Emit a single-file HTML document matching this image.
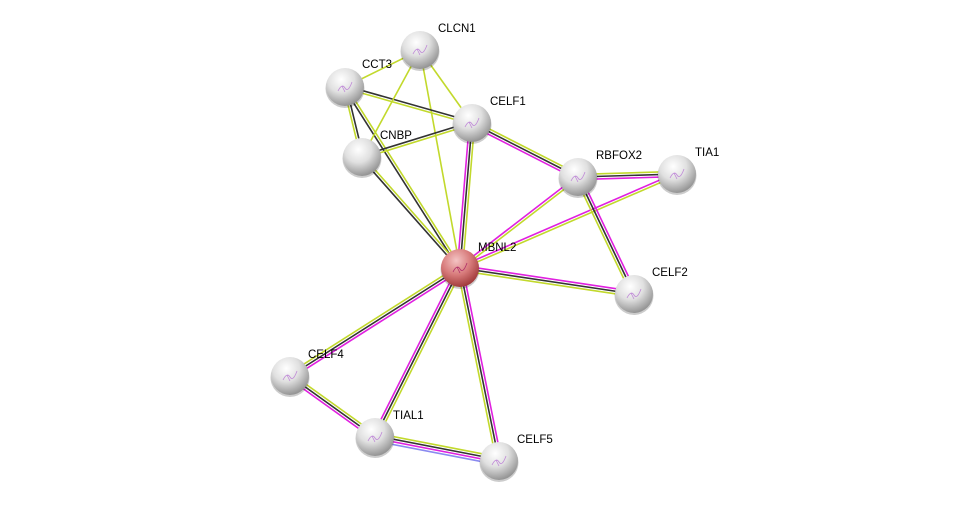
<!DOCTYPE html>
<html><head><meta charset="utf-8"><style>
html,body{margin:0;padding:0;background:#fff;width:975px;height:506px;overflow:hidden}
text{font-family:"Liberation Sans",sans-serif;font-size:11.5px;fill:#000}
</style></head><body>
<svg id="s" width="975" height="506" xmlns="http://www.w3.org/2000/svg">
<defs>
<radialGradient id="gw" cx="40%" cy="30%" r="70%">
<stop offset="0" stop-color="#ffffff"/><stop offset="0.5" stop-color="#e0e0e0"/><stop offset="1" stop-color="#959595"/></radialGradient>
<radialGradient id="gr" cx="40%" cy="30%" r="70%">
<stop offset="0" stop-color="#f4c4c4"/><stop offset="0.55" stop-color="#d77a7a"/><stop offset="1" stop-color="#a23c3c"/></radialGradient>
</defs>
<g id="edges"></g><g id="nodes"></g>
</svg>
<script>
var N={MBNL2:[460,268],CLCN1:[420,50],CCT3:[345,87],CELF1:[472,123],CNBP:[362,157],RBFOX2:[578,177],TIA1:[677,174],CELF2:[634,294],CELF4:[290,376],TIAL1:[375,437],CELF5:[499,461]};
var Y="#c2d92c",K="#333",M="#e020e0",B="#8a8af0";
var E=[["MBNL2","CELF4",[M,K,Y]],["MBNL2","TIAL1",[Y,K,M]],["MBNL2","CELF5",[M,K,Y]],["CELF4","TIAL1",[Y,K,M]],["TIAL1","CELF5",[Y,K,M,B]],["MBNL2","CELF2",[M,K,Y]],["MBNL2","TIA1",[M,Y]],["MBNL2","RBFOX2",[M,Y]],["MBNL2","CELF1",[M,K,Y]],["MBNL2","CLCN1",[Y]],["MBNL2","CCT3",[K,Y]],["MBNL2","CNBP",[K,Y]],["CELF1","RBFOX2",[Y,K,M]],["RBFOX2","TIA1",[Y,K,M]],["RBFOX2","CELF2",[M,K,Y]],["CCT3","CLCN1",[Y]],["CCT3","CELF1",[K,Y]],["CCT3","CNBP",[K,Y]],["CLCN1","CNBP",[Y]],["CLCN1","CELF1",[Y]],["CNBP","CELF1",[K,Y]]];
var ns="http://www.w3.org/2000/svg",eg=document.getElementById("edges"),ng=document.getElementById("nodes");
E.forEach(function(e){var a=N[e[0]],b=N[e[1]],dx=b[0]-a[0],dy=b[1]-a[1],L=Math.hypot(dx,dy),px=-dy/L,py=dx/L,n=e[2].length;
e[2].forEach(function(c,i){var o=(i-(n-1)/2)*2.6;var l=document.createElementNS(ns,"line");
l.setAttribute("x1",a[0]+px*o);l.setAttribute("y1",a[1]+py*o);l.setAttribute("x2",b[0]+px*o);l.setAttribute("y2",b[1]+py*o);
l.setAttribute("stroke",c);l.setAttribute("stroke-width","1.6");eg.appendChild(l);});});
var lab={MBNL2:[478,251],CLCN1:[438,32],CCT3:[362,68],CELF1:[490,105],CNBP:[380,139],RBFOX2:[596,159],TIA1:[695,156],CELF2:[652,276],CELF4:[308,358],TIAL1:[393,419],CELF5:[517,443]};
for(var k in N){var p=N[k];var c=document.createElementNS(ns,"circle");c.setAttribute("cx",p[0]);c.setAttribute("cy",p[1]+1.5);c.setAttribute("r",19.5);c.setAttribute("fill","rgba(0,0,0,0.2)");ng.appendChild(c);
c=document.createElementNS(ns,"circle");c.setAttribute("cx",p[0]);c.setAttribute("cy",p[1]);c.setAttribute("r",19);c.setAttribute("fill",k=="MBNL2"?"url(#gr)":"url(#gw)");ng.appendChild(c);
if(k!="CNBP"){var s=document.createElementNS(ns,"path");s.setAttribute("d","M"+(p[0]-7)+" "+(p[1]+4)+"q4 -8 7 -3t7 -6m-10 4l3 6");s.setAttribute("stroke",k=="MBNL2"?"#b0306a":"#c08ad8");s.setAttribute("fill","none");s.setAttribute("stroke-width","0.8");ng.appendChild(s);}
var t=document.createElementNS(ns,"text");t.setAttribute("x",lab[k][0]);t.setAttribute("y",lab[k][1]);t.textContent=k;ng.appendChild(t);}
</script>
</body></html>
